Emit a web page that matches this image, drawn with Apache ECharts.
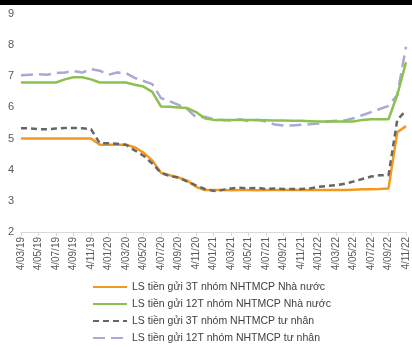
<!DOCTYPE html>
<html>
<head>
<meta charset="utf-8">
<script src="https://cdn.jsdelivr.net/npm/echarts@6/dist/echarts.min.js"></script>
<style>
  html, body { margin: 0; padding: 0; background: #fff; }
  #chart { width: 412px; height: 347px; }
</style>
</head>
<body>
<div id="chart"></div>
<script>
// Monthly observation dates (labels shown every second month)
const months = [
  '4/03/19','4/04/19','4/05/19','4/06/19','4/07/19','4/08/19','4/09/19','4/10/19','4/11/19','4/12/19',
  '4/01/20','4/02/20','4/03/20','4/04/20','4/05/20','4/06/20','4/07/20','4/08/20','4/09/20','4/10/20','4/11/20','4/12/20',
  '4/01/21','4/02/21','4/03/21','4/04/21','4/05/21','4/06/21','4/07/21','4/08/21','4/09/21','4/10/21','4/11/21','4/12/21',
  '4/01/22','4/02/22','4/03/22','4/04/22','4/05/22','4/06/22','4/07/22','4/08/22','4/09/22','4/10/22','4/11/22'
];

// Deposit rates (%/year)
const state3M = [
  5.0, 5.0, 5.0, 5.0, 5.0, 5.0, 5.0, 5.0, 5.0, 4.8,
  4.8, 4.8, 4.8, 4.72, 4.55, 4.3, 3.9, 3.82, 3.75, 3.65, 3.45, 3.35,
  3.35, 3.35, 3.34, 3.35, 3.35, 3.34, 3.35, 3.35, 3.35, 3.35, 3.35, 3.35,
  3.35, 3.35, 3.35, 3.35, 3.36, 3.37, 3.37, 3.38, 3.4, 5.2, 5.4
];
const state12M = [
  6.8, 6.8, 6.8, 6.8, 6.8, 6.9, 6.97, 6.97, 6.9, 6.8,
  6.8, 6.8, 6.8, 6.73, 6.67, 6.5, 6.03, 6.02, 6.0, 5.98, 5.85, 5.65,
  5.6, 5.6, 5.6, 5.6, 5.6, 5.6, 5.59, 5.58, 5.58, 5.57, 5.57, 5.56,
  5.55, 5.55, 5.55, 5.55, 5.55, 5.6, 5.62, 5.62, 5.62, 6.4, 7.45
];
const private3M = [
  5.33, 5.33, 5.3, 5.3, 5.32, 5.34, 5.34, 5.33, 5.3, 4.85,
  4.85, 4.83, 4.8, 4.62, 4.45, 4.2, 3.9, 3.8, 3.75, 3.62, 3.5, 3.38,
  3.32, 3.35, 3.4, 3.42, 3.4, 3.42, 3.38, 3.4, 3.38, 3.38, 3.38, 3.4,
  3.45, 3.48, 3.5, 3.55, 3.62, 3.7, 3.78, 3.82, 3.82, 5.6, 5.9
];
const private12M = [
  7.03, 7.05, 7.07, 7.05, 7.1, 7.12, 7.17, 7.12, 7.23, 7.18,
  7.05, 7.12, 7.1, 6.95, 6.85, 6.75, 6.3, 6.2, 6.08, 5.95, 5.68, 5.7,
  5.62, 5.6, 5.58, 5.62, 5.56, 5.6, 5.55, 5.45, 5.42, 5.42, 5.44, 5.46,
  5.48, 5.55, 5.57, 5.58, 5.65, 5.75, 5.85, 5.95, 6.05, 6.4, 7.95
];

const seriesNames = [
  'LS tiền gửi 3T nhóm NHTMCP Nhà nước',
  'LS tiền gửi 12T nhóm NHTMCP Nhà nước',
  'LS tiền gửi 3T nhóm NHTMCP tư nhân',
  'LS tiền gửi 12T nhóm NHTMCP tư nhân'
];

const yTicks = [2, 3, 4, 5, 6, 7, 8, 9];

const FONT = '"Liberation Sans", Arial, sans-serif';

const chart = echarts.init(document.getElementById('chart'), null, { renderer: 'canvas' });

function line(name, data, color, type, z) {
  return {
    name: name,
    type: 'line',
    data: data,
    symbol: 'none',
    smooth: false,
    z: z,
    lineStyle: { color: color, width: 2.5, type: type, cap: 'butt' },
    itemStyle: { color: color }
  };
}

chart.setOption({
  animation: false,
  backgroundColor: '#ffffff',
  textStyle: { fontFamily: FONT },
  graphic: [
    { type: 'rect', left: 0, top: 0, shape: { width: 412, height: 5 }, style: { fill: '#000' }, z: 10 }
  ],
  grid: { left: 21, right: 6, top: 14, bottom: 115, containLabel: false },
  legend: {
    orient: 'vertical',
    left: 92,
    top: 281,
    padding: 0,
    itemWidth: 34,
    itemHeight: 10,
    itemGap: 5,
    itemStyle: { opacity: 0 },
    textStyle: { fontFamily: FONT, fontSize: 10.5, lineHeight: 12, color: '#404040' },
    data: seriesNames
  },
  xAxis: {
    type: 'category',
    data: months,
    boundaryGap: false,
    axisLine: { show: true, lineStyle: { color: '#d9d9d9', width: 1 } },
    axisTick: { show: true, interval: 1, length: 4, lineStyle: { color: '#d9d9d9' } },
    axisLabel: {
      interval: 1,
      rotate: 90,
      fontSize: 10,
      color: '#595959',
      fontFamily: FONT,
      margin: 5
    },
    splitLine: { show: false }
  },
  yAxis: {
    type: 'value',
    min: yTicks[0],
    max: yTicks[yTicks.length - 1],
    interval: 1,
    axisLine: { show: false },
    axisTick: { show: false },
    splitLine: { show: false },
    axisLabel: { fontSize: 11, color: '#595959', fontFamily: FONT, margin: 7 }
  },
  series: [
    line(seriesNames[0], state3M, '#f39a1e', 'solid', 3),
    line(seriesNames[1], state12M, '#8cc152', 'solid', 4),
    line(seriesNames[2], private3M, '#666666', [6, 4], 5),
    line(seriesNames[3], private12M, '#a9a9d6', [12, 6], 2)
  ]
});
</script>
</body>
</html>
